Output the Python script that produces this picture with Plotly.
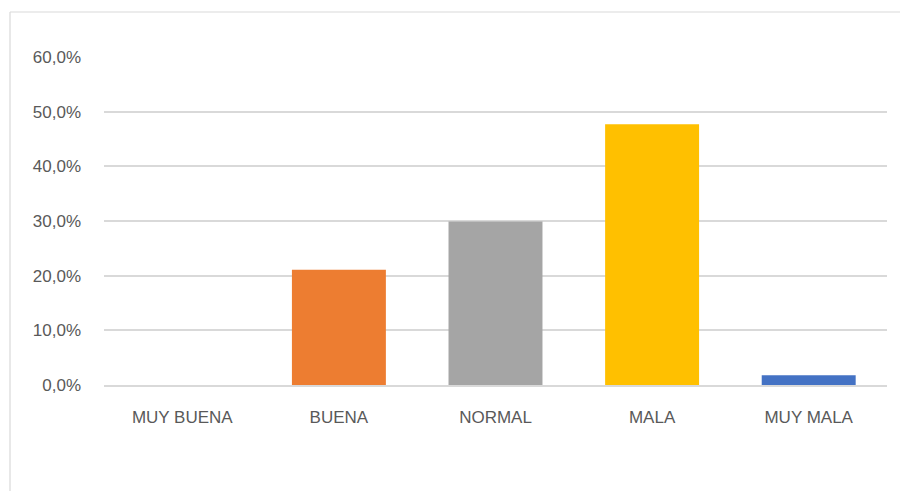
import plotly.graph_objects as go

categories = ["MUY BUENA", "BUENA", "NORMAL", "MALA", "MUY MALA"]
values = [0.0, 0.211, 0.299, 0.477, 0.018]
colors = ["#4472C4", "#ED7D31", "#A5A5A5", "#FFC000", "#4472C4"]
tick_vals = [0, 0.1, 0.2, 0.3, 0.4, 0.5, 0.6]
tick_text = ["0,0%", "10,0%", "20,0%", "30,0%", "40,0%", "50,0%", "60,0%"]

W, H = 900, 491
L, R, T, B = 104, 13, 57, 106

fig = go.Figure(go.Bar(
    x=categories, y=values, marker=dict(color=colors, line=dict(width=0)),
    width=0.6, hoverinfo="skip",
))

pw = W - L - R
ph = H - T - B
fx0 = (10 - L) / pw
fx1 = (W + 2 - L) / pw
fy1 = 1 + (T - 12) / ph
fy0 = -(B + 2) / ph

fig.update_layout(
    width=W, height=H,
    margin=dict(l=L, r=R, t=T, b=B, autoexpand=False),
    paper_bgcolor="white", plot_bgcolor="white",
    showlegend=False,
    font=dict(family="Liberation Sans, Arial, sans-serif", size=17, color="#595959"),
    xaxis=dict(showgrid=False, showline=True, linecolor="#D9D9D9", linewidth=1.5,
               ticks="", tickfont=dict(size=17, color="#595959"), ticklabelstandoff=16,
               fixedrange=True),
    yaxis=dict(range=[0, 0.6], tickvals=tick_vals, ticktext=tick_text,
               showgrid=True, gridcolor="#D9D9D9", gridwidth=1.5, zeroline=False,
               showline=False, ticks="", tickfont=dict(size=17, color="#595959"),
               ticklabelstandoff=22, fixedrange=True),
    shapes=[
        dict(type="line", xref="paper", yref="paper", x0=fx0, x1=fx0, y0=fy0, y1=fy1,
             line=dict(color="#D9D9D9", width=1.2), layer="below"),
        dict(type="line", xref="paper", yref="paper", x0=fx0, x1=fx1, y0=fy1, y1=fy1,
             line=dict(color="#D9D9D9", width=1.2), layer="below"),
    ],
)

fig.write_html(
    "out.html",
    config={"displayModeBar": False},
    post_script="document.body.style.margin='0';document.body.style.overflow='hidden';",
)
